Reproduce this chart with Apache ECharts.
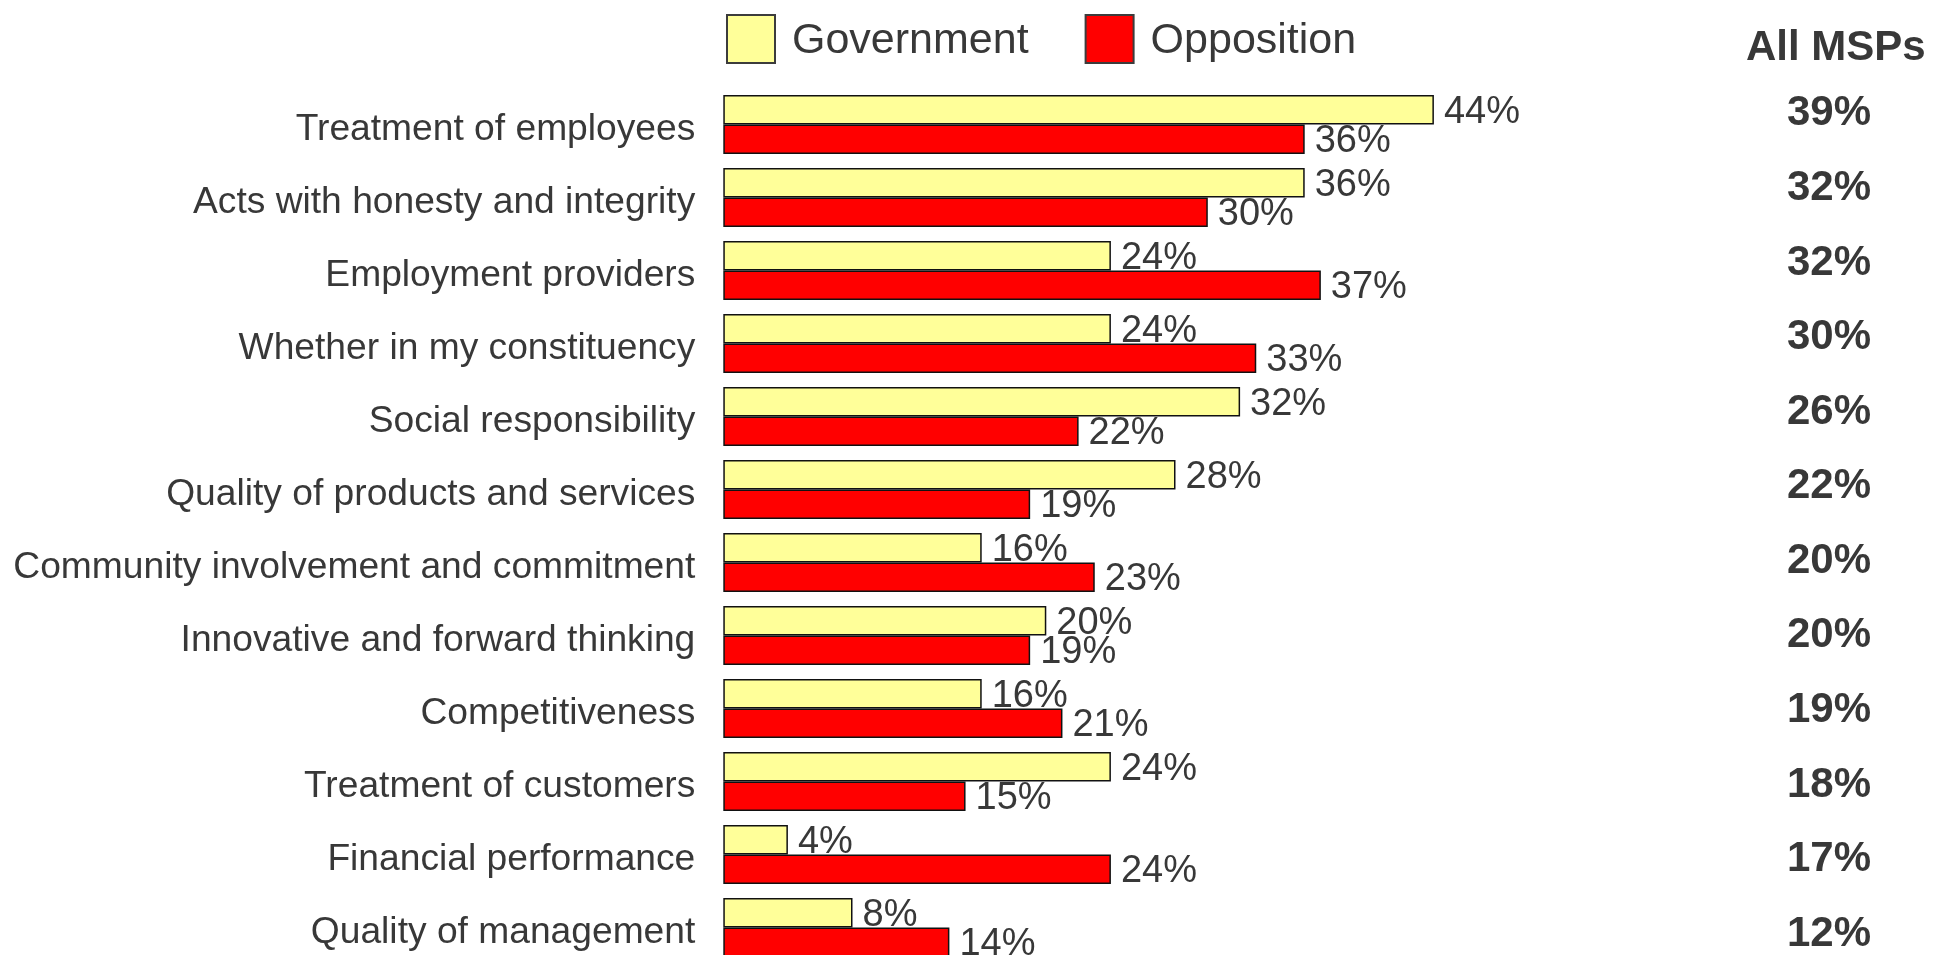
<!DOCTYPE html>
<html>
<head>
<meta charset="utf-8">
<script src="https://cdn.jsdelivr.net/npm/echarts@6/dist/echarts.min.js"></script>
<style>
  html, body { margin: 0; padding: 0; background: #ffffff; }
  #chart { width: 1933px; height: 955px; }
</style>
</head>
<body>
<div id="chart"></div>
<script>
// Attributes, top to bottom
const categories = [
  'Treatment of employees',
  'Acts with honesty and integrity',
  'Employment providers',
  'Whether in my constituency',
  'Social responsibility',
  'Quality of products and services',
  'Community involvement and commitment',
  'Innovative and forward thinking',
  'Competitiveness',
  'Treatment of customers',
  'Financial performance',
  'Quality of management'
];
// Share of MSPs (%) by group
const government = [44, 36, 24, 24, 32, 28, 16, 20, 16, 24, 4, 8];
const opposition = [36, 30, 37, 33, 22, 19, 23, 19, 21, 15, 24, 14];
const allMsps    = [39, 32, 32, 30, 26, 22, 20, 20, 19, 18, 17, 12];

const FONT = '"Liberation Sans", Arial, Helvetica, sans-serif';
const TEXT = '#383838';

const chart = echarts.init(document.getElementById('chart'), null, { renderer: 'canvas' });

const barLabel = {
  show: true,
  position: 'right',
  distance: 10,
  offset: [0, 2.5],
  formatter: '{c}%',
  fontFamily: FONT,
  fontSize: 38,
  color: TEXT
};

chart.setOption({
  backgroundColor: '#ffffff',
  animation: false,
  textStyle: { fontFamily: FONT },
  title: {
    text: 'All MSPs',
    left: 1746,
    top: 27,
    padding: 0,
    textStyle: { fontFamily: FONT, fontSize: 42, fontWeight: 'bold', color: TEXT }
  },
  legend: {
    left: 726,
    top: 14,
    padding: 0,
    itemWidth: 48,
    itemHeight: 48,
    itemGap: 56,
    icon: 'rect',
    selectedMode: false,
    itemStyle: { borderColor: '#3c3c3c', borderWidth: 2 },
    formatter: '{t|{name}}',
    textStyle: {
      fontFamily: FONT,
      fontSize: 43,
      color: TEXT,
      rich: {
        t: { fontFamily: FONT, fontSize: 43, color: TEXT, padding: [5, 0, 0, 12] }
      }
    },
    data: ['Government', 'Opposition']
  },
  grid: [
    { left: 723.3, right: 402.2, top: 88, bottom: -9, outerBoundsMode: 'none' },
    { left: 1829, width: 1, top: 76.5, bottom: -16.5, outerBoundsMode: 'none' }
  ],
  xAxis: [
    { type: 'value', min: 0, max: 50, show: false, gridIndex: 0 },
    { type: 'value', min: 0, max: 1, show: false, gridIndex: 1 }
  ],
  yAxis: [
    {
      type: 'category',
      gridIndex: 0,
      inverse: true,
      data: categories,
      axisLine: { show: false },
      axisTick: { show: false },
      splitLine: { show: false },
      axisLabel: {
        margin: 28,
        fontFamily: FONT,
        fontSize: 37.2,
        color: TEXT,
        verticalAlign: 'top',
        lineHeight: 10
      }
    },
    {
      type: 'category',
      gridIndex: 1,
      inverse: true,
      data: allMsps.map(v => v + '%'),
      axisLine: { show: false },
      axisTick: { show: false },
      splitLine: { show: false },
      axisLabel: {
        margin: 0,
        align: 'center',
        fontFamily: FONT,
        fontSize: 42,
        fontWeight: 'bold',
        color: TEXT
      }
    }
  ],
  series: [
    {
      name: 'Government',
      type: 'bar',
      xAxisIndex: 0,
      yAxisIndex: 0,
      data: government,
      barWidth: 29.6,
      barGap: '0%',
      itemStyle: { color: '#ffff99', borderColor: '#111111', borderWidth: 1.5 },
      label: barLabel
    },
    {
      name: 'Opposition',
      type: 'bar',
      xAxisIndex: 0,
      yAxisIndex: 0,
      data: opposition,
      barWidth: 29.6,
      barGap: '0%',
      itemStyle: { color: '#ff0000', borderColor: '#111111', borderWidth: 1.5 },
      label: barLabel
    }
  ]
});
</script>
</body>
</html>
